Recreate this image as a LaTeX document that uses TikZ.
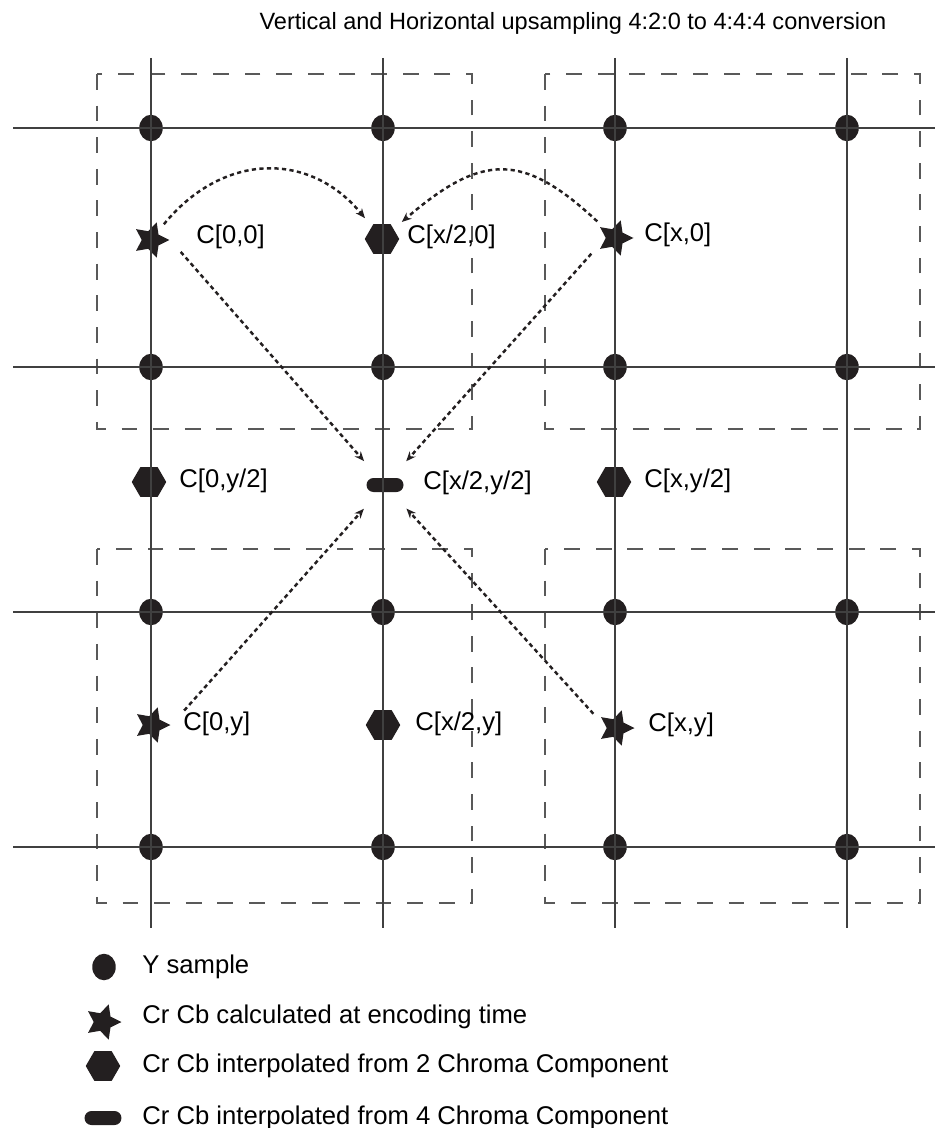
\documentclass[tikz,border=0pt]{standalone}
\usepackage{fontspec}
\setmainfont{Liberation Sans}
\usetikzlibrary{shapes.geometric,arrows.meta}

\definecolor{ink}{HTML}{231F20}

\tikzset{
  ysample/.style={ellipse,fill=ink,inner sep=0pt,minimum width=0.47cm,minimum height=0.53cm},
  encstar/.style={star,star points=5,star point ratio=2.0,shape border rotate=-90,fill=ink,inner sep=0pt,minimum size=0.74cm},
  interp/.style={regular polygon,regular polygon sides=6,fill=ink,inner sep=0pt,minimum size=0.69cm},
  quad/.style={rectangle,rounded corners=0.14cm,fill=ink,inner sep=0pt,minimum width=0.74cm,minimum height=0.28cm},
  lbl/.style={anchor=west,inner sep=0pt,font=\fontsize{14.6}{17}\selectfont},
  gridline/.style={line width=0.65pt,draw=black!75},
  block/.style={line width=0.6pt,draw=black!65,dash pattern=on 9pt off 9pt},
  flow/.style={line width=1.4pt,draw=ink,dash pattern=on 2.4pt off 1.9pt,-{Stealth[length=5.5pt,width=4.5pt]}},
}

\begin{document}
\begin{tikzpicture}[x=0.02cm,y=-0.02cm]
  \useasboundingbox (0,0) rectangle (935,1128);

  \node[anchor=base,inner sep=0pt,font=\fontsize{13.4}{16}\selectfont] (title) at (573,30)
    {Vertical and Horizontal upsampling 4:2:0 to 4:4:4 conversion};

  % 2x2 luma blocks
  \draw[block] (97,74) rectangle (472,429);
  \draw[block] (545,74) rectangle (920,429);
  \draw[block] (97,549) rectangle (472,903);
  \draw[block] (545,549) rectangle (920,903);

  % Y samples
  \foreach \i/\x in {1/151,2/383,3/615,4/847}
    \foreach \j/\y in {1/128,2/367,3/612,4/847}
      \node[ysample] (y\i\j) at (\x,\y) {};

  % chroma samples
  \node[encstar] (c00) at (151,240) {};
  \node[interp] (cx20) at (382,239) {};
  \node[encstar] (cx0) at (615,238) {};
  \node[interp] (c0y2) at (149,482) {};
  \node[quad] (cx2y2) at (385,485) {};
  \node[interp] (cxy2) at (614,482) {};
  \node[encstar] (c0y) at (152,725) {};
  \node[interp] (cx2y) at (383,725) {};
  \node[encstar] (cxy) at (616,728) {};

  % sampling grid
  \foreach \x in {151,383,615,847} \draw[gridline] (\x,58) -- (\x,928);
  \foreach \y in {128,367,612,847} \draw[gridline] (13,\y) -- (935,\y);

  \node[lbl] (t00) at (196,237) {C[0,0]};
  \node[lbl] (tx20) at (407,237) {C[x/2,0]};
  \node[lbl] (tx0) at (644,235) {C[x,0]};
  \node[lbl] (t0y2) at (179,481) {C[0,y/2]};
  \node[lbl] (tx2y2) at (423,483) {C[x/2,y/2]};
  \node[lbl] (txy2) at (644,481) {C[x,y/2]};
  \node[lbl] (t0y) at (183,724) {C[0,y]};
  \node[lbl] (tx2y) at (415,724) {C[x/2,y]};
  \node[lbl] (txy) at (648,725) {C[x,y]};

  % interpolation paths
  \draw[flow,shorten <=5pt,shorten >=6pt] (c00) .. controls +(72,-88) and +(-72,-88) .. (cx20);
  \draw[flow,shorten <=5pt,shorten >=6pt] (cx0) .. controls +(-92,-86) and +(100,-86) .. (cx20);
  \draw[flow,shorten <=9pt,shorten >=12.5pt] (c00.east) -- (cx2y2);
  \draw[flow,shorten <=12pt,shorten >=12.5pt] (cx0.west) -- (cx2y2);
  \draw[flow,shorten <=11pt,shorten >=12.5pt] (c0y.east) -- (cx2y2);
  \draw[flow,shorten <=11pt,shorten >=12.5pt] (cxy.west) -- (cx2y2);

  % legend
  \node[ysample] (ky) at (104,967) {};
  \node[encstar] (kc) at (103,1022) {};
  \node[interp] (ki) at (103,1066) {};
  \node[quad] (kq) at (103,1118) {};
  \node[lbl] (tky) at (142,967) {Y sample};
  \node[lbl] (tkc) at (142,1017) {Cr Cb calculated at encoding time};
  \node[lbl] (tki) at (142,1066) {Cr Cb interpolated from 2 Chroma Component};
  \node[lbl] (tkq) at (142,1118) {Cr Cb interpolated from 4 Chroma Component};
\end{tikzpicture}
\end{document}
